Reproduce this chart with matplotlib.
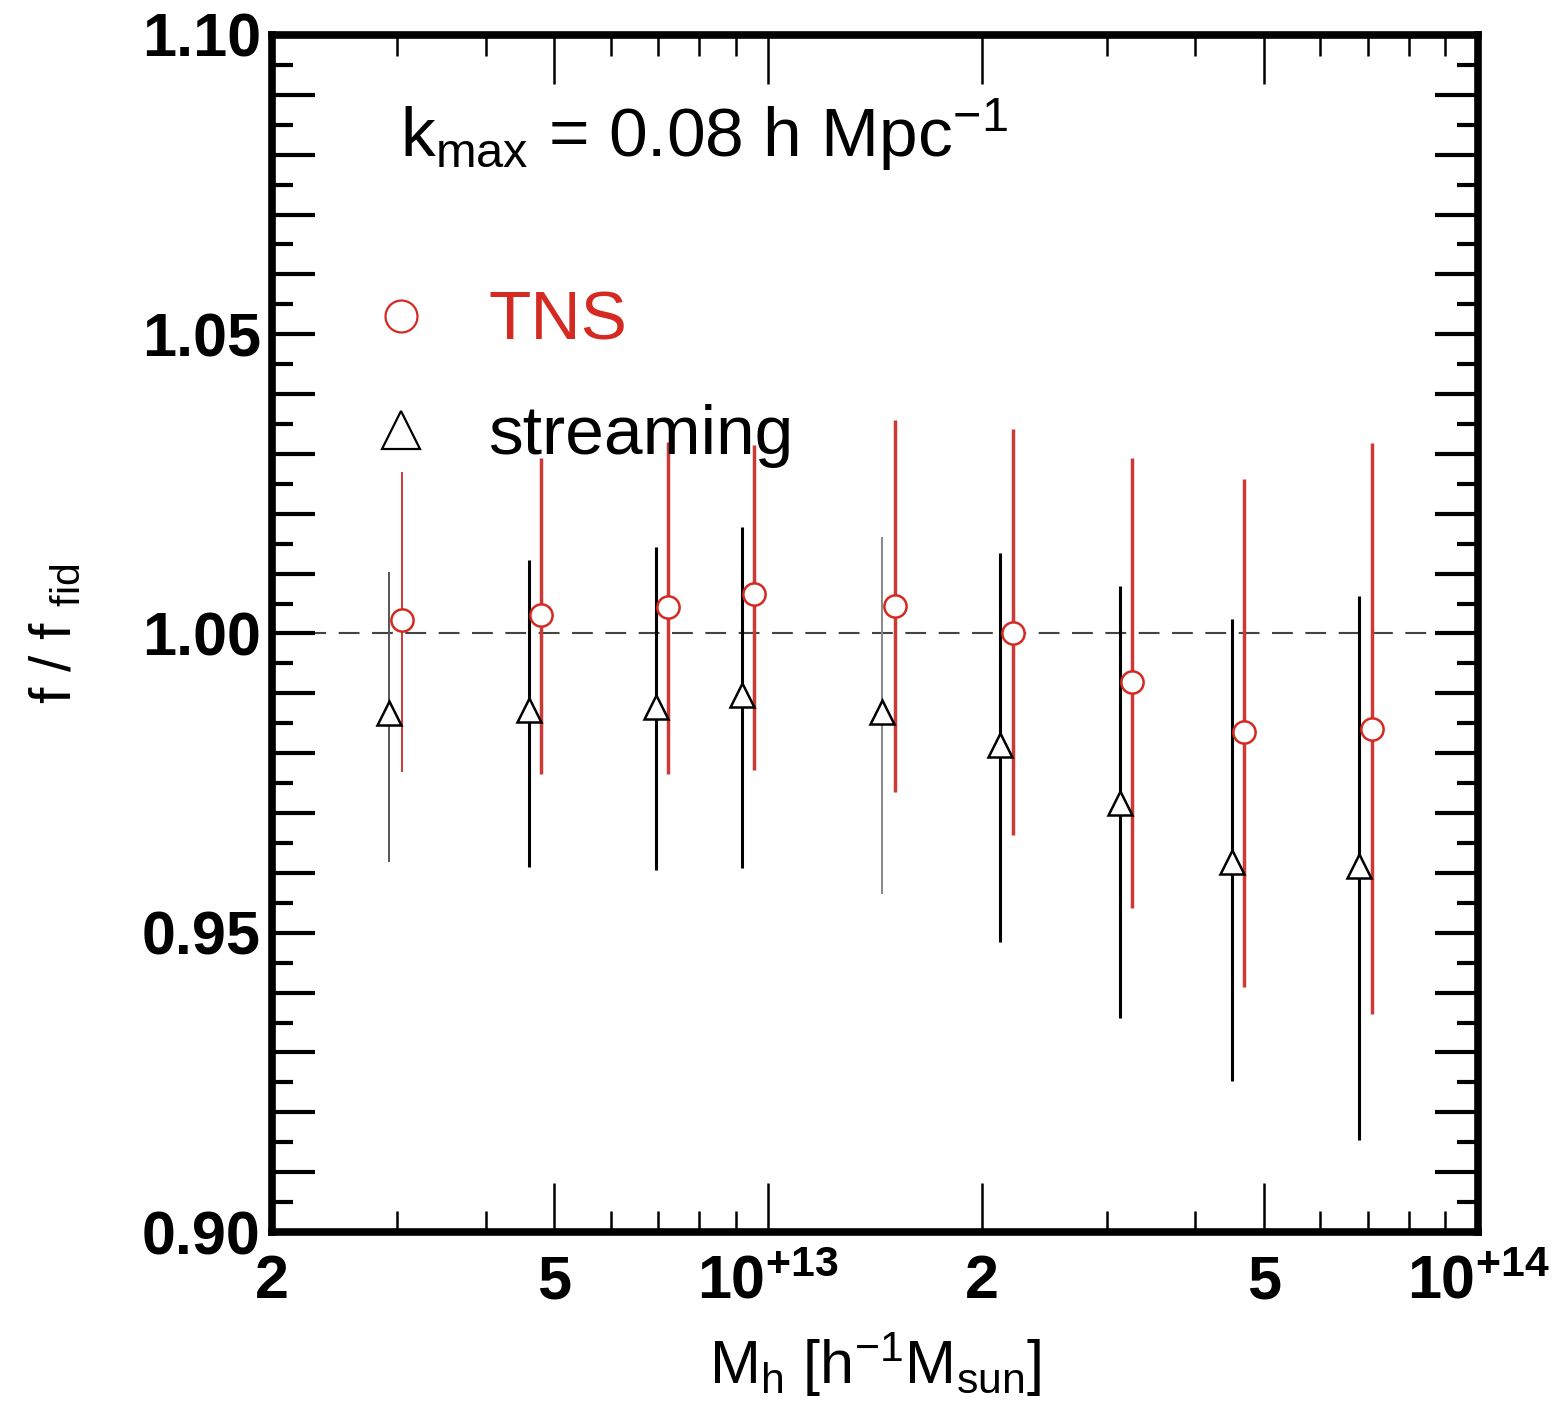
import numpy as np
import matplotlib
matplotlib.use('Agg')
import matplotlib.pyplot as plt
from matplotlib.ticker import FixedLocator, FixedFormatter, FuncFormatter, NullFormatter
from matplotlib.lines import Line2D

plt.rcParams['font.family'] = ['Liberation Sans', 'DejaVu Sans']
plt.rcParams['mathtext.fontset'] = 'custom'
plt.rcParams['mathtext.rm'] = 'Liberation Sans'
plt.rcParams['mathtext.it'] = 'Liberation Sans:italic'
plt.rcParams['mathtext.bf'] = 'Liberation Sans:bold'
plt.rcParams['mathtext.default'] = 'regular'

# halo mass bins (points are shifted slightly for each model)
mass_tns = [3.05e12, 4.79e12, 7.23e12, 9.55e12, 1.51e13, 2.21e13, 3.26e13, 4.68e13, 7.09e13]
mass_stream = [2.92e12, 4.60e12, 6.95e12, 9.19e12, 1.447e13, 2.12e13, 3.13e13, 4.50e13, 6.80e13]

# f / f_fid with lower and upper ends of the error bars
f_tns = [1.0023, 1.0031, 1.0044, 1.0066, 1.0046, 1.0001, 0.9919, 0.9835, 0.9841]
lo_tns = [0.9769, 0.9765, 0.9765, 0.9772, 0.9735, 0.9664, 0.9542, 0.9410, 0.9364]
hi_tns = [1.0270, 1.0293, 1.0320, 1.0315, 1.0357, 1.0342, 1.0294, 1.0258, 1.0318]

f_stream = [0.9867, 0.9872, 0.9877, 0.9897, 0.9868, 0.9813, 0.9716, 0.9618, 0.9611]
lo_stream = [0.9618, 0.9610, 0.9605, 0.9608, 0.9564, 0.9484, 0.9357, 0.9252, 0.9154]
hi_stream = [1.0103, 1.0123, 1.0145, 1.0178, 1.0161, 1.0135, 1.0079, 1.0024, 1.0063]

x_major = [2e12, 5e12, 1e13, 2e13, 5e13, 1e14]
x_major_labels = ['2', '5', r'$\mathbf{10^{+13}}$', '2', '5', r'$\mathbf{10^{+14}}$']
x_minor = [3e12, 4e12, 6e12, 7e12, 8e12, 9e12, 3e13, 4e13, 6e13, 7e13, 8e13, 9e13]

red = '#d42a22'
bar_red = '#cc3a36'
# the scanned bars are not all drawn alike
tns_widths = [1.4, 2.5, 2.5, 2.5, 2.5, 2.5, 2.5, 2.5, 2.5]
stream_widths = [1.4, 2.2, 2.2, 2.2, 1.4, 2.2, 2.2, 2.2, 2.2]
stream_colors = ['#555555', 'black', 'black', 'black', '#888888', 'black', 'black', 'black', 'black']

fig = plt.figure(figsize=(15.61, 14.04), dpi=100)
ax = fig.add_axes([0.1742, 0.1225, 0.7726, 0.8526])

ax.axhline(1.0, color='#444444', lw=1.5, ls=(0, (10, 6)), zorder=1)

for m, f, lo, hi, lw, c in zip(mass_stream, f_stream, lo_stream, hi_stream,
                               stream_widths, stream_colors):
    ax.errorbar([m], [f], yerr=[[f - lo], [hi - f]], fmt='none', ecolor=c,
                elinewidth=lw, capsize=0, zorder=2)
for m, f, lo, hi, lw in zip(mass_tns, f_tns, lo_tns, hi_tns, tns_widths):
    ax.errorbar([m], [f], yerr=[[f - lo], [hi - f]], fmt='none', ecolor=bar_red,
                elinewidth=lw, capsize=0, zorder=2)

ax.plot(mass_stream, f_stream, ls='none', marker='^', ms=17, mfc='white',
        mec='black', mew=1.8, zorder=4)
ax.plot(mass_tns, f_tns, ls='none', marker='o', ms=16, mfc='white',
        mec=red, mew=1.8, zorder=4)

ax.set_xscale('log')
ax.set_xlim(2e12, 1e14)
ax.set_ylim(0.90, 1.10)

ax.xaxis.set_major_locator(FixedLocator(x_major))
ax.xaxis.set_major_formatter(FixedFormatter(x_major_labels))
ax.xaxis.set_minor_locator(FixedLocator(x_minor))
ax.xaxis.set_minor_formatter(NullFormatter())

ax.yaxis.set_major_locator(FixedLocator(np.round(np.arange(0.90, 1.1001, 0.01), 2)))
ax.yaxis.set_minor_locator(FixedLocator(np.round(np.arange(0.905, 1.10, 0.01), 3)))
ax.yaxis.set_major_formatter(FuncFormatter(
    lambda v, p: f'{v:.2f}' if int(round(v * 100)) % 5 == 0 else ''))

ax.tick_params(axis='both', which='both', direction='in', top=True, right=True)
ax.tick_params(axis='x', which='major', length=35, width=1.8, pad=16, labelsize=44)
ax.tick_params(axis='x', which='minor', length=15, width=1.8)
ax.tick_params(axis='y', which='major', length=31, width=3, pad=8, labelsize=44)
ax.tick_params(axis='y', which='minor', length=15, width=3)
for lab in ax.get_xticklabels() + ax.get_yticklabels():
    lab.set_fontweight('bold')
for sp in ax.spines.values():
    sp.set_linewidth(5.5)

ax.set_xlabel(r'M$_{\rm h}$ [h$^{-1}$M$_{\rm sun}$]', fontsize=44, labelpad=14)
ax.set_ylabel(r'f / f $_{\rm fid}$', fontsize=42, labelpad=42)

ax.text(0.106, 0.898, r'k$_{\rm max}$ = 0.08 h Mpc$^{-1}$', transform=ax.transAxes,
        fontsize=50, va='baseline', ha='left')

handles = [Line2D([], [], ls='none', marker='o', ms=23, mfc='white', mec=red, mew=1.6),
           Line2D([], [], ls='none', marker='^', ms=27, mfc='white', mec='black', mew=1.6)]
leg = ax.legend(handles, ['TNS', 'streaming'], loc='upper left',
                bbox_to_anchor=(0.078, 0.787), frameon=False, fontsize=50,
                handlelength=1.0, handletextpad=0.76, labelspacing=0.72,
                borderpad=0, borderaxespad=0)
leg.get_texts()[0].set_color(red)

fig.savefig('out.png', dpi=100)
